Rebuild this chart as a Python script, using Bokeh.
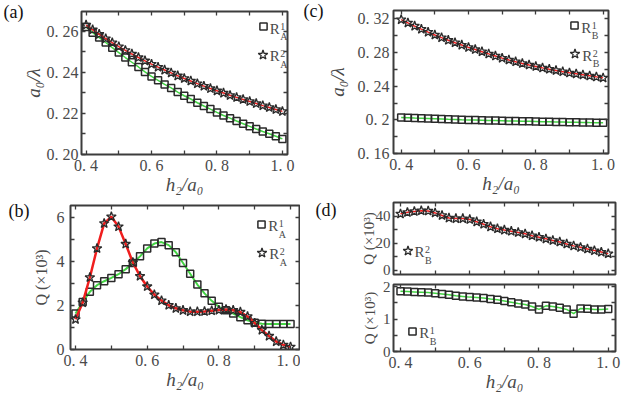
from bokeh.plotting import figure
from bokeh.layouts import row, column
from bokeh.models import (LinearAxis, FixedTicker, Range1d, Label, Legend,
                          LegendItem, CustomJSTickFormatter)
from bokeh.embed import file_html
from bokeh.resources import INLINE

# ---------------- data ----------------
h2_a0 = [0.40, 0.42, 0.44, 0.46, 0.48, 0.50, 0.52, 0.54, 0.56, 0.58, 0.60,
         0.62, 0.64, 0.66, 0.68, 0.70, 0.72, 0.74, 0.76, 0.78, 0.80,
         0.82, 0.84, 0.86, 0.88, 0.90, 0.92, 0.94, 0.96, 0.98, 1.00]

# (a) a0/lambda, modes R_A^1 (squares) and R_A^2 (stars)
a_RA1 = [0.2621, 0.2593, 0.2569, 0.2545, 0.2520, 0.2496, 0.2472, 0.2449, 0.2426, 0.2402, 0.2380,
         0.2361, 0.2341, 0.2324, 0.2304, 0.2286, 0.2270, 0.2252, 0.2236, 0.2221, 0.2205,
         0.2190, 0.2177, 0.2163, 0.2150, 0.2137, 0.2124, 0.2112, 0.2101, 0.2089, 0.2076]
a_RA2 = [0.2630, 0.2607, 0.2585, 0.2564, 0.2544, 0.2525, 0.2507, 0.2489, 0.2472, 0.2456, 0.2440,
         0.2425, 0.2411, 0.2397, 0.2383, 0.2370, 0.2358, 0.2345, 0.2333, 0.2321, 0.2310,
         0.2299, 0.2288, 0.2278, 0.2268, 0.2258, 0.2248, 0.2238, 0.2229, 0.2219, 0.2210]

# (b) Q (x10^3), R_A^1 and R_A^2
b_RA1 = [1.63, 2.16, 2.62, 2.92, 3.10, 3.25, 3.42, 3.65, 3.93, 4.23, 4.59,
         4.81, 4.88, 4.74, 4.42, 3.93, 3.44, 2.95, 2.55, 2.21, 1.94,
         1.78, 1.63, 1.47, 1.33, 1.22, 1.17, 1.16, 1.16, 1.16, 1.16]
b_RA2 = [1.37, 2.13, 3.27, 4.59, 5.73, 6.03, 5.58, 4.79, 3.95, 3.33, 2.86,
         2.49, 2.22, 2.01, 1.87, 1.78, 1.72, 1.72, 1.73, 1.76, 1.79,
         1.82, 1.78, 1.70, 1.50, 1.20, 0.88, 0.61, 0.36, 0.21, 0.12]

# (c) a0/lambda, R_B^1 and R_B^2
c_RB1 = [0.2028, 0.2025, 0.2021, 0.2018, 0.2015, 0.2012, 0.2009, 0.2006, 0.2004, 0.2001, 0.1999,
         0.1997, 0.1995, 0.1993, 0.1991, 0.1989, 0.1987, 0.1985, 0.1983, 0.1982, 0.1980,
         0.1978, 0.1977, 0.1975, 0.1974, 0.1972, 0.1971, 0.1970, 0.1968, 0.1967, 0.1966]
c_RB2 = [0.3192, 0.3153, 0.3115, 0.3078, 0.3043, 0.3009, 0.2977, 0.2946, 0.2917, 0.2889, 0.2862,
         0.2836, 0.2810, 0.2784, 0.2759, 0.2734, 0.2712, 0.2691, 0.2671, 0.2652, 0.2635,
         0.2618, 0.2602, 0.2587, 0.2573, 0.2559, 0.2547, 0.2535, 0.2523, 0.2511, 0.2499]

# (d) Q (x10^3), R_B^2 (top) and R_B^1 (bottom)
d_RB2 = [41.9, 43.0, 43.7, 44.2, 44.0, 42.6, 40.7, 38.8, 38.4, 38.4, 37.7,
         36.0, 34.2, 32.3, 30.9, 29.9, 29.0, 28.1, 27.1, 25.7, 24.6,
         23.4, 22.2, 21.1, 19.6, 18.2, 17.1, 15.9, 14.7, 13.6, 12.4]
d_RB1 = [1.86, 1.85, 1.84, 1.83, 1.82, 1.80, 1.78, 1.75, 1.72, 1.70, 1.68,
         1.67, 1.65, 1.62, 1.60, 1.56, 1.52, 1.48, 1.45, 1.39, 1.30,
         1.41, 1.39, 1.35, 1.30, 1.17, 1.33, 1.32, 1.30, 1.30, 1.31]

# ticks
NB = "\u00a0"
x_ticks = [0.4, 0.6, 0.8, 1.0]
x_minor = [0.5, 0.7, 0.9]
x_labels = ["0." + NB + "4", "0." + NB + "6", "0." + NB + "8", "1." + NB + "0"]
a_yticks = [0.20, 0.22, 0.24, 0.26]
a_yminor = [0.21, 0.23, 0.25]
a_ylabels = ["0." + NB + "20", "0." + NB + "22", "0." + NB + "24", "0." + NB + "26"]
b_yticks = [0, 2, 4, 6]
b_yminor = [1, 3, 5]
b_ylabels = ["0", "2", "4", "6"]
c_yticks = [0.16, 0.20, 0.24, 0.28, 0.32]
c_yminor = [0.18, 0.22, 0.26, 0.30]
c_ylabels = ["0." + NB + "16", "0." + NB + "2", "0." + NB + "24", "0." + NB + "28", "0." + NB + "32"]
dt_yticks = [0, 20, 40]
dt_yminor = [10, 30]
dt_ylabels = ["0", "20", "40"]
db_yticks = [0, 1, 2]
db_yminor = [0.5, 1.5]
db_ylabels = ["0", "1", "2"]

# ---------------- style ----------------
FONT = "Liberation Serif"
FRAME = "#3c3c3c"
TXT = "#4a4a4a"
RED = "#f01e1e"
GREEN = "#44d444"
MK = "#2a2a2a"
TICK_FS = "16px"
XLAB = "h\u2082/a\u2080"
YLAB_A = "a\u2080/\u03bb"
YLAB_Q = "Q (\u00d710\u00b3)"


def fmt(ticks, labels):
    return CustomJSTickFormatter(args=dict(t=ticks, l=labels), code="""
        for (let i = 0; i < t.length; i++) { if (Math.abs(t[i] - tick) < 1e-9) { return l[i]; } }
        return '';""")


def panel(W, H, bl, br, bt, bb, xr, yr):
    p = figure(width=W, height=H, x_range=Range1d(*xr), y_range=Range1d(*yr),
               x_axis_location=None, y_axis_location=None, toolbar_location=None,
               output_backend="svg", min_border_left=bl, min_border_right=br,
               min_border_top=bt, min_border_bottom=bb, frame_align=False)
    p.grid.visible = False
    p.outline_line_color = FRAME
    p.outline_line_width = 2
    p.background_fill_color = "white"
    p.border_fill_color = "white"
    return p


def style(ax, show, fs=TICK_FS):
    ax.axis_line_color = None
    ax.major_tick_in = 4
    ax.major_tick_out = 0
    ax.minor_tick_in = 4
    ax.minor_tick_out = 0
    ax.major_tick_line_color = FRAME
    ax.minor_tick_line_color = FRAME
    ax.major_tick_line_width = 1.3
    ax.minor_tick_line_width = 1.3
    ax.major_label_text_font = FONT
    ax.major_label_text_color = TXT
    if show:
        ax.major_label_text_font_size = fs
    else:
        ax.major_label_text_font_size = "0px"
        ax.major_label_standoff = 0


def axes(p, yr, yt, ym, yl, ylabel, ylab_fs, ylab_style, ylab_standoff, ytick_standoff,
         letter, letter_standoff, show_x=True, ytick_fs=TICK_FS):
    b = LinearAxis(ticker=FixedTicker(ticks=x_ticks, minor_ticks=x_minor),
                   formatter=fmt(x_ticks, x_labels if show_x else [""] * 4))
    style(b, show_x)
    if show_x:
        b.major_label_standoff = 2
        b.axis_label = XLAB
        b.axis_label_text_font = FONT
        b.axis_label_text_font_style = "italic"
        b.axis_label_text_font_size = "19px"
        b.axis_label_text_color = TXT
        b.axis_label_standoff = -3
    p.add_layout(b, "below")
    t = LinearAxis(ticker=FixedTicker(ticks=x_ticks, minor_ticks=x_minor),
                   formatter=fmt(x_ticks, [""] * 4))
    style(t, False)
    p.add_layout(t, "above")
    l = LinearAxis(ticker=FixedTicker(ticks=yt, minor_ticks=ym), formatter=fmt(yt, yl))
    style(l, True, ytick_fs)
    l.major_label_standoff = ytick_standoff
    l.axis_label = ylabel
    l.axis_label_text_font = FONT
    l.axis_label_text_font_style = ylab_style
    l.axis_label_text_font_size = ylab_fs
    l.axis_label_text_color = TXT
    l.axis_label_standoff = ylab_standoff
    p.add_layout(l, "left")
    r = LinearAxis(ticker=FixedTicker(ticks=yt, minor_ticks=ym), formatter=fmt(yt, [""] * len(yt)))
    style(r, False)
    p.add_layout(r, "right")
    if letter:
        # panel letter, drawn as the only label of an outer, tickless left axis
        top = yr[1] - (yr[1] - yr[0]) * 1e-6
        la = LinearAxis(ticker=FixedTicker(ticks=[top], minor_ticks=[]),
                        formatter=fmt([top], [letter]))
        la.axis_line_color = None
        la.major_tick_line_color = None
        la.minor_tick_line_color = None
        la.major_tick_in = 0
        la.major_tick_out = 0
        la.minor_tick_in = 0
        la.minor_tick_out = 0
        la.major_label_text_font = FONT
        la.major_label_text_font_size = "18px"
        la.major_label_text_color = "#111111"
        la.major_label_standoff = letter_standoff
        p.add_layout(la, "left")


def squares(p, y, lw):
    p.line(h2_a0, y, line_color=GREEN, line_width=lw)
    return p.scatter(h2_a0, y, marker="square", size=7, line_color=MK, line_width=1.5,
                     fill_alpha=0)


def stars(p, y, lw, size=10):
    p.line(h2_a0, y, line_color=RED, line_width=lw)
    return p.scatter(h2_a0, y, marker="star", size=size, line_color=MK, line_width=1.3,
                     fill_alpha=0)


def legend_entry(p, r, cx, cy, msize, sub, sup):
    box = msize / 0.4
    lg = Legend(items=[LegendItem(label=" ", renderers=[r])],
                location=(cx - box / 2, cy - box / 2), glyph_width=int(round(box)),
                glyph_height=int(round(box)), padding=0, margin=0, spacing=0,
                border_line_color=None, background_fill_alpha=0, label_width=0,
                label_height=0, label_standoff=0, label_text_font_size="1px")
    p.add_layout(lg)
    common = dict(x_units="screen", y_units="screen", text_font=FONT, text_color=TXT)
    p.add_layout(Label(x=cx + 7, y=cy - 1.5, text="R", text_font_size="15px",
                       text_baseline="middle", **common))
    p.add_layout(Label(x=cx + 17.5, y=cy + 1, text=sup, text_font_size="10px",
                       text_baseline="alphabetic", **common))
    p.add_layout(Label(x=cx + 17.5, y=cy - 9.5, text=sub, text_font_size="10px",
                       text_baseline="alphabetic", **common))


# (a)
a_xr, a_yr = (0.386, 1.0156), (0.20, 0.2696)
pa = panel(300, 198, 73, 13, 11, 44, a_xr, a_yr)
axes(pa, a_yr, a_yticks, a_yminor, a_ylabels, YLAB_A, "19px", "italic", 0, 3, "(a)", -4)
ra1 = squares(pa, a_RA1, 1.5)
ra2 = stars(pa, a_RA2, 1.5)
legend_entry(pa, ra1, 181.3, 127.3, 7, "A", "1")
legend_entry(pa, ra2, 181.3, 100, 10, "A", "2")

# (b)
b_xr, b_yr = (0.386, 1.025), (0, 6.54)
pb = panel(300, 196, 70, 1, 7, 45, b_xr, b_yr)
axes(pb, b_yr, b_yticks, b_yminor, b_ylabels, YLAB_Q, "16px", "normal", 4, 6, "(b)", 0)
rb1 = squares(pb, b_RA1, 2)
rb2 = stars(pb, b_RA2, 2.5)
legend_entry(pb, rb1, 190.7, 124.7, 7, "A", "1")
legend_entry(pb, rb2, 191.7, 97, 10, "A", "2")

# (c)
c_xr, c_yr = (0.3772, 1.016), (0.16, 0.33)
pc = panel(323, 196, 92, 15, 10, 43, c_xr, c_yr)
axes(pc, c_yr, c_yticks, c_yminor, c_ylabels, YLAB_A, "19px", "italic", 7, 4, "(c)", 0)
rc1 = squares(pc, c_RB1, 1.5)
rc2 = stars(pc, c_RB2, 1.5)
legend_entry(pc, rc1, 180.7, 127.5, 7, "B", "1")
legend_entry(pc, rc2, 181.7, 99.2, 10, "B", "2")

# (d) top
dt_xr, dt_yr = (0.3798, 1.021), (-3.0, 50.3)
pdt = panel(323, 84, 93, 8, 6, 6, dt_xr, dt_yr)
axes(pdt, dt_yr, dt_yticks, dt_yminor, dt_ylabels, YLAB_Q, "15px", "normal", -4, 3, "(d)", 21,
     show_x=False, ytick_fs="15px")
rd2 = stars(pdt, d_RB2, 1.5)
legend_entry(pdt, rd2, 14, 24, 10, "B", "2")

# (d) bottom
db_xr, db_yr = (0.3798, 1.021), (0, 2.07)
pdb = panel(323, 114, 93, 8, 4, 38, db_xr, db_yr)
axes(pdb, db_yr, db_yticks, db_yminor, db_ylabels, YLAB_Q, "15px", "normal", 2, 3, "", 0,
     ytick_fs="15px")
rd1 = squares(pdb, d_RB1, 1.5)
legend_entry(pdb, rd1, 18.7, 20, 7, "B", "1")

layout = row(column(pa, pb, spacing=0), column(pc, pdt, pdb, spacing=0), spacing=0)

open("out.html", "w").write(file_html(layout, INLINE))
